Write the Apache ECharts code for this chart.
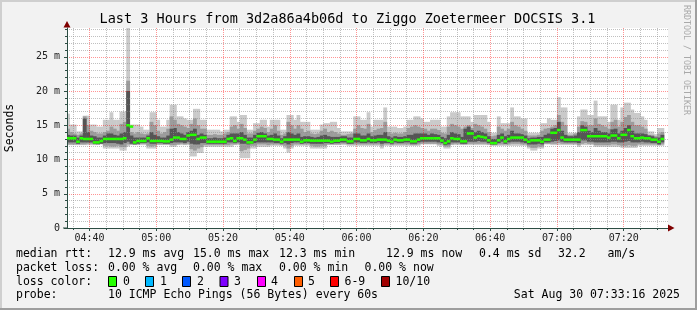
<!DOCTYPE html>
<html><head><meta charset="utf-8">
<script src="https://cdn.jsdelivr.net/npm/echarts@6/dist/echarts.min.js"></script>
<style>html,body{margin:0;padding:0;background:#f2f2f2}#c{width:697px;height:310px}</style>
</head><body><div id="c"></div>
<script>
// ---------------- data ----------------
const titleText = 'Last 3 Hours from 3d2a86a4b06d to Ziggo Zoetermeer DOCSIS 3.1';
const yAxisName = 'Seconds';
const xTickLabels = ['04:40','05:00','05:20','05:40','06:00','06:20','06:40','07:00','07:20'];
const yTickValues = [0, 5, 10, 15, 20, 25];
const yTickLabels = ['0', '5 m', '10 m', '15 m', '20 m', '25 m'];
const rangeStart = '04:33:16';
const rangeEnd = '07:33:16';
const firstStep = '04:33';
const yMax = 29.2;

// median rtt (ms), one value per minute
const med = [
13.1,13.1,13.1,12.6,13.1,13.0,13.0,13.0,12.5,12.5,
12.7,13.0,13.0,13.0,13.0,13.0,13.0,13.1,15.0,14.8,
12.5,12.7,12.7,12.7,13.1,12.7,12.7,12.7,12.7,12.65,
12.65,12.9,13.2,13.2,13.0,13.0,13.5,13.6,13.6,13.0,
13.2,13.2,12.6,12.6,12.6,12.6,12.6,12.6,13.0,13.1,
12.7,13.1,13.1,12.9,12.5,12.5,12.9,13.4,13.4,13.4,
13.0,13.0,12.9,12.9,12.6,12.9,12.9,12.9,12.9,12.9,
12.6,12.8,12.8,12.75,12.75,12.75,12.75,12.75,12.75,12.6,
12.75,12.75,12.9,12.9,12.65,12.65,13.0,13.0,12.8,12.8,
13.0,12.8,12.8,12.9,12.9,12.9,12.75,12.6,12.9,12.8,
12.8,12.9,12.9,12.65,12.65,12.9,13.1,13.1,13.1,13.1,
13.1,13.1,12.75,12.4,12.65,13.1,13.0,13.0,12.65,12.65,
13.8,13.8,13.2,13.4,13.3,13.2,12.8,12.4,12.4,12.8,
13.2,12.65,13.0,13.2,13.2,13.2,13.2,12.9,12.6,12.8,
12.8,12.8,12.6,12.9,12.9,13.9,13.9,14.3,13.2,12.9,
12.9,12.9,12.9,12.9,14.3,14.3,13.4,13.4,13.4,13.4,
13.4,13.4,13.2,13.5,13.5,13.1,13.6,13.6,14.3,13.4,
13.1,13.1,13.2,13.1,13.1,12.9,12.9,12.6,13.0];

// slowest ping of each round (ms)
const mx = [
16.7,15.1,15.1,14.1,14.1,16.4,16.4,15.1,15.1,14.8,
14.8,15.8,15.8,16.9,15.8,15.8,17.0,17.0,29.2,15.1,
15.1,15.1,14.8,14.35,14.35,16.9,16.9,15.8,14.8,14.8,
15.8,18.0,18.0,16.3,16.3,16.0,15.8,15.8,17.4,17.4,
15.8,15.8,14.35,14.35,14.35,14.35,14.1,14.35,14.35,16.3,
16.3,15.5,16.5,16.5,14.35,14.35,15.3,15.3,15.8,15.8,
14.8,15.8,15.8,15.8,14.35,14.35,16.5,16.5,15.8,16.5,
15.5,15.5,15.5,14.35,14.35,14.35,15.1,15.3,15.3,15.5,
15.5,14.6,14.1,14.1,14.1,14.1,16.3,16.3,15.8,15.8,
16.9,14.8,15.8,15.8,15.8,17.6,14.8,14.8,14.8,14.6,
14.6,14.8,15.8,15.8,16.3,16.3,16.0,15.5,15.5,15.8,
15.8,15.8,14.8,14.8,16.3,16.9,16.9,16.9,16.3,16.3,
16.3,15.5,16.5,16.5,16.5,16.5,15.5,13.9,13.9,16.3,
15.3,15.3,15.3,17.6,16.3,16.3,16.0,16.0,13.9,13.9,
13.9,13.9,15.3,15.3,16.0,15.8,15.8,19.1,17.6,17.6,
13.9,13.9,13.9,16.3,17.3,17.3,16.5,16.5,18.6,16.3,
16.3,16.3,15.5,18.0,18.0,15.8,17.6,18.3,18.3,17.3,
16.8,16.8,16.3,15.8,14.1,14.1,13.7,14.6,14.6];

// upper edge of the middle smoke band (ms)
const hi2 = [
14.5,14.0,13.8,13.6,13.8,16.3,15.0,14.2,14.0,13.8,
13.8,14.0,14.2,14.8,14.5,14.2,15.2,15.5,21.5,14.0,
13.8,14.0,13.8,13.7,13.8,15.5,15.0,14.2,13.8,14.0,
14.5,16.3,15.8,15.2,15.0,14.8,14.6,15.2,16.0,15.0,
14.5,14.5,13.6,13.6,13.7,13.6,13.6,13.8,14.0,14.8,
15.0,14.5,15.2,14.6,13.8,13.8,14.2,14.5,14.8,14.6,
14.0,14.5,15.0,14.2,13.6,13.8,15.5,15.0,14.5,15.0,
14.5,14.0,14.2,13.8,13.7,13.8,14.2,14.5,14.0,14.2,
14.0,13.8,13.6,13.6,13.7,13.8,14.5,15.0,14.6,14.5,
15.2,14.0,14.3,14.5,14.6,15.5,14.0,13.8,13.9,13.8,
13.8,14.0,14.6,14.8,15.0,14.8,14.6,14.5,14.2,14.5,
14.5,14.3,13.9,13.8,14.8,15.2,15.0,14.8,14.5,14.8,
15.0,14.6,15.2,15.0,14.8,14.5,14.0,13.4,13.5,14.8,
14.5,14.2,14.5,15.5,15.0,14.8,14.5,14.2,13.5,13.5,
13.5,13.6,14.2,14.5,14.6,14.8,15.0,16.5,15.5,15.0,
13.6,13.6,13.8,14.8,15.6,15.5,15.0,15.0,16.0,15.2,
15.0,14.8,14.5,15.5,15.8,14.8,15.5,16.2,16.5,15.5,
15.0,15.0,14.8,14.5,13.6,13.6,13.4,13.8,14.0];

// upper edge of the dark core band (ms)
const hi3 = [
13.6,13.5,13.5,13.2,13.5,16.0,14.0,13.5,13.4,13.2,
13.2,13.5,13.8,13.8,13.6,13.5,13.8,14.0,20.0,13.5,
13.2,13.2,13.2,13.2,13.5,14.0,13.6,13.4,13.2,13.2,
13.5,14.5,14.6,14.0,13.8,13.6,14.0,14.2,14.5,13.6,
13.8,13.6,13.1,13.1,13.2,13.1,13.1,13.2,13.6,13.8,
13.8,13.8,14.0,13.6,13.2,13.2,13.6,13.9,14.0,13.8,
13.5,13.6,13.8,13.5,13.1,13.4,14.0,13.8,13.6,13.8,
13.3,13.4,13.4,13.3,13.2,13.3,13.5,13.6,13.4,13.3,
13.3,13.3,13.4,13.4,13.2,13.2,13.8,13.8,13.5,13.5,
13.8,13.4,13.5,13.6,13.6,14.0,13.4,13.2,13.4,13.3,
13.3,13.4,13.6,13.6,13.8,13.8,13.8,13.8,13.6,13.8,
13.7,13.6,13.3,13.1,13.6,14.0,13.8,13.7,13.3,14.5,
14.8,14.3,14.0,14.2,14.0,13.8,13.4,13.0,13.0,13.6,
13.8,13.4,13.6,14.2,13.8,13.8,13.7,13.5,13.1,13.2,
13.2,13.3,13.3,13.6,13.8,14.5,14.6,15.5,14.2,13.6,
13.4,13.4,13.5,14.0,15.0,14.8,14.2,14.0,14.6,14.2,
14.0,14.0,13.8,14.4,14.5,13.8,14.2,14.6,15.0,14.2,
13.8,13.8,13.8,13.7,13.5,13.4,13.2,13.2,13.6];

// lower edge of the dark core band (ms)
const lo3 = [
12.5,12.5,12.5,12.3,12.5,12.5,12.5,12.5,12.3,12.2,
12.3,12.4,12.4,12.4,12.4,12.3,12.2,12.4,12.6,12.3,
12.2,12.3,12.4,12.4,12.5,12.3,12.3,12.4,12.4,12.3,
12.3,12.4,12.5,12.5,12.5,12.4,12.6,12.3,12.2,12.2,
12.4,12.4,12.3,12.3,12.3,12.3,12.3,12.3,12.5,12.5,
12.4,12.5,12.3,12.3,12.2,12.3,12.4,12.5,12.5,12.5,
12.5,12.5,12.4,12.4,12.3,12.4,12.2,12.4,12.5,12.5,
12.3,12.4,12.4,12.3,12.3,12.3,12.3,12.4,12.4,12.3,
12.4,12.4,12.5,12.5,12.3,12.3,12.5,12.5,12.4,12.4,
12.5,12.4,12.4,12.5,12.3,12.4,12.4,12.3,12.5,12.4,
12.4,12.5,12.5,12.3,12.3,12.5,12.6,12.6,12.6,12.6,
12.6,12.5,12.4,12.1,12.2,12.5,12.5,12.5,12.3,12.3,
12.6,12.6,12.6,12.7,12.6,12.6,12.4,12.2,12.2,12.4,
12.6,12.3,12.5,12.6,12.6,12.6,12.5,12.4,12.2,12.2,
12.2,12.3,12.2,12.5,12.5,12.6,12.7,12.8,12.6,12.5,
12.5,12.5,12.5,12.4,12.8,12.8,12.6,12.6,12.5,12.5,
12.5,12.5,12.5,12.6,12.6,12.5,12.5,12.6,12.7,12.5,
12.5,12.5,12.6,12.5,12.5,12.4,12.4,12.2,12.5];

// lower edge of the middle smoke band (ms)
const lo2 = [
12.2,12.2,12.2,12.2,12.2,12.2,12.3,12.3,12.2,12.3,
12.3,12.0,12.0,11.9,11.9,12.0,11.8,11.8,12.2,12.2,
12.2,12.2,12.3,12.3,12.0,11.9,12.0,12.2,12.2,12.2,
12.2,12.1,12.1,12.2,12.3,12.2,12.3,11.5,11.3,11.6,
11.8,12.1,12.1,12.1,12.1,12.1,12.1,12.1,12.1,12.2,
12.2,12.3,11.2,11.4,11.6,12.0,12.0,12.2,12.2,12.2,
12.1,12.2,12.2,12.2,12.1,12.0,11.6,12.0,12.2,12.2,
12.2,12.2,12.2,12.0,11.9,11.9,12.0,12.0,12.2,12.2,
12.2,12.2,12.3,12.3,12.2,12.2,12.2,12.2,12.2,12.2,
12.2,12.2,12.2,12.2,12.0,12.2,12.2,12.1,12.2,12.2,
12.2,12.2,12.2,12.1,12.1,12.2,12.3,12.3,12.3,12.3,
12.3,12.2,12.2,11.9,11.9,12.2,12.3,12.3,12.2,12.2,
12.3,12.3,12.3,12.3,12.3,12.3,12.2,12.1,12.1,12.2,
12.2,12.2,12.2,12.3,12.3,12.3,12.2,12.2,11.9,11.7,
11.7,11.9,11.9,12.3,12.3,12.3,12.3,12.4,12.3,12.3,
12.3,12.3,12.3,12.1,12.3,12.4,12.3,12.3,12.1,12.1,
12.1,12.1,12.1,12.2,12.2,12.1,12.0,12.0,12.1,12.0,
12.0,12.2,12.2,12.2,12.2,12.2,12.2,12.1,12.2];

// fastest ping of each round (ms)
const mn = [
12.1,12.1,12.1,12.1,12.1,12.1,12.1,12.1,12.1,12.2,
12.2,11.6,11.6,11.6,11.6,11.6,11.3,11.3,11.9,12.1,
12.1,12.1,12.1,12.1,11.6,11.6,11.6,12.1,12.1,12.1,
12.1,11.85,11.85,12.1,12.1,12.1,12.1,10.45,10.45,10.95,
10.95,11.85,11.85,11.85,11.85,11.85,11.85,11.85,11.85,11.85,
12.1,12.1,10.2,10.2,10.2,11.6,11.6,11.85,11.85,11.85,
11.85,12.0,12.0,12.0,12.0,11.6,11.0,11.6,12.0,12.0,
12.0,12.0,12.0,11.6,11.6,11.6,11.6,11.6,12.1,12.1,
12.1,12.1,12.1,12.1,12.0,12.0,12.0,12.0,12.0,12.0,
12.0,12.0,12.0,12.0,11.6,12.0,12.0,12.0,12.0,12.0,
12.0,12.0,12.0,12.0,12.0,12.0,12.2,12.2,12.2,12.2,
12.2,12.0,12.0,11.6,11.6,12.1,12.1,12.1,12.1,12.1,
12.1,12.1,12.1,12.1,12.1,12.1,12.1,12.0,12.0,12.0,
12.0,12.0,12.0,12.0,12.0,12.0,12.0,12.0,11.6,11.3,
11.3,11.6,11.6,12.2,12.2,12.1,12.1,12.1,12.1,12.1,
12.1,12.1,12.1,11.85,12.1,12.1,12.1,12.1,11.85,11.85,
11.85,11.85,11.85,11.85,11.85,11.85,11.7,11.7,11.7,11.7,
11.7,12.0,12.0,12.0,12.0,12.0,12.0,12.0,12.0];

// legend texts
const rttStats = ['12.9 ms avg', '15.0 ms max', '12.3 ms min', '12.9 ms now', '0.4 ms sd', '32.2', 'am/s'];
const lossStats = ['0.00 % avg', '0.00 % max', '0.00 % min', '0.00 % now'];
const lossLabels = ['0', '1', '2', '3', '4', '5', '6-9', '10/10'];
const lossColors = ['#26ff00', '#00b8ff', '#0059ff', '#7e00ff', '#ff00ff', '#ff5e00', '#ff0000', '#a10000'];
const probeText = '10 ICMP Echo Pings (56 Bytes) every 60s';
const stampText = 'Sat Aug 30 07:33:16 2025';
const watermark = 'RRDTOOL / TOBI OETIKER';

// ---------------- layout / build ----------------
const toMin = s => { const p = s.split(':').map(Number); return p[0] * 60 + p[1] + (p[2] || 0) / 60; };
const t0 = toMin(rangeStart), t1 = toMin(rangeEnd), s0 = toMin(firstStep);
const xMajor = xTickLabels.map(toMin);
const xMinor = []; for (let m = Math.ceil(t0 / 5) * 5; m <= t1; m += 5) if (m % 20) xMinor.push(m);
const yMinor = []; for (let v = 1; v < yMax; v++) if (v % 5) yMinor.push(v);

const MONO = 'DejaVu Sans Mono';
const AX = '#2c4d43';
const minorLine = { color: 'rgba(140,140,140,0.55)', type: 'dotted', width: 1 };
const majorLine = { color: 'rgba(255,0,0,0.42)', type: 'dotted', width: 1 };

function band(lo, hi, color) {
  return {
    type: 'custom', clip: true, silent: true, z: 1,
    encode: { x: 0, y: [1, 2] },
    data: lo.map((v, i) => [s0 + i, v, hi[i]]),
    renderItem: (params, api) => {
      const a = api.coord([api.value(0), api.value(2)]);
      const b = api.coord([api.value(0) + 1, api.value(1)]);
      return { type: 'rect', shape: { x: a[0], y: a[1], width: b[0] - a[0] + 0.5, height: b[1] - a[1] }, style: { fill: color } };
    }
  };
}

const graphics = [];
// frame
graphics.push({ type: 'rect', shape: { x: 0, y: 0, width: 697, height: 2 }, style: { fill: '#cfcfcf' } });
graphics.push({ type: 'rect', shape: { x: 0, y: 0, width: 2, height: 310 }, style: { fill: '#cfcfcf' } });
graphics.push({ type: 'rect', shape: { x: 695, y: 0, width: 2, height: 310 }, style: { fill: '#9e9e9e' } });
graphics.push({ type: 'rect', shape: { x: 0, y: 308, width: 697, height: 2 }, style: { fill: '#9e9e9e' } });
// title
graphics.push({ type: 'text', x: 347.5, y: 19, style: { text: titleText, font: '13.5px "' + MONO + '"', fill: '#000', align: 'center', verticalAlign: 'middle' } });
// y name
graphics.push({ type: 'text', x: 10.5, y: 128, rotation: Math.PI / 2, style: { text: yAxisName, font: '11.5px "' + MONO + '"', fill: '#000', align: 'center', verticalAlign: 'middle' } });
// watermark
graphics.push({ type: 'text', x: 686, y: 60, rotation: -Math.PI / 2, style: { text: watermark, font: '8.3px "' + MONO + '"', fill: '#a9a9a9', align: 'center', verticalAlign: 'middle' } });
// arrows
graphics.push({ type: 'polygon', z: 20, shape: { points: [[668, 224.5], [674.5, 228], [668, 231.5]] }, style: { fill: '#7f0000' } });
graphics.push({ type: 'polygon', z: 20, shape: { points: [[63.5, 27.5], [67, 21], [70.5, 27.5]] }, style: { fill: '#7f0000' } });
graphics.push({ type: 'rect', z: 20, shape: { x: 63, y: 227.5, width: 4, height: 1 }, style: { fill: AX } });

const LF = '11.5px "' + MONO + '"';
function txt(x, y, s, align) {
  graphics.push({ type: 'text', x: x, y: y, style: { text: s, font: LF, fill: '#000', align: align || 'left', verticalAlign: 'middle' } });
}
const rowY = [254, 268, 282, 295.5];
txt(16, rowY[0], 'median rtt:');
[108, 193, 279, 386, 479, 558, 607.5].forEach((x, i) => txt(x, rowY[0], rttStats[i]));
txt(16, rowY[1], 'packet loss:');
[108, 193, 279, 364.5].forEach((x, i) => txt(x, rowY[1], lossStats[i]));
txt(16, rowY[2], 'loss color:');
const boxX = [108, 145, 182, 219.5, 257, 294, 330, 381];
const boxLabelX = [123, 160, 197, 234, 271, 308, 344.5, 395.5];
boxX.forEach((x, i) => {
  graphics.push({ type: 'rect', shape: { x: x + 0.5, y: 276.5, width: 8, height: 10 }, style: { fill: lossColors[i], stroke: '#000', lineWidth: 1 } });
  txt(boxLabelX[i], rowY[2], lossLabels[i]);
});
txt(16, rowY[3], 'probe:');
txt(108, rowY[3], probeText);
txt(680, rowY[3], stampText, 'right');

const chart = echarts.init(document.getElementById('c'), null, { renderer: 'canvas' });
chart.setOption({
  animation: false,
  backgroundColor: '#f2f2f2',
  grid: { left: 67, right: 29, top: 28, bottom: 82, show: true, backgroundColor: '#ffffff', borderWidth: 0, outerBoundsMode: 'none', containLabel: false },
  xAxis: [
    { type: 'value', min: t0, max: t1, position: 'bottom', z: 5,
      axisLine: { show: true, onZero: false, lineStyle: { color: AX, width: 1 } },
      axisTick: { show: true, customValues: xMajor, length: 3, lineStyle: { color: AX } },
      axisLabel: { customValues: xMajor, margin: 5, fontFamily: MONO, fontSize: 10, color: '#222',
        formatter: v => { let b = 0; xMajor.forEach((m, i) => { if (Math.abs(m - v) < Math.abs(xMajor[b] - v)) b = i; }); return xTickLabels[b]; } },
      splitLine: { show: true, lineStyle: majorLine } },
    { type: 'value', min: t0, max: t1, position: 'bottom', z: 4,
      axisLine: { show: false },
      axisTick: { show: true, customValues: xMinor, length: 2, lineStyle: { color: AX } },
      axisLabel: { show: false, customValues: xMinor },
      splitLine: { show: true, lineStyle: minorLine } }
  ],
  yAxis: [
    { type: 'value', min: 0, max: yMax, position: 'left', z: 5,
      axisLine: { show: true, onZero: false, lineStyle: { color: AX, width: 1 } },
      axisTick: { show: true, customValues: yTickValues, length: 3, lineStyle: { color: AX } },
      axisLabel: { customValues: yTickValues, margin: 7, fontFamily: MONO, fontSize: 10, color: '#222',
        formatter: v => yTickLabels[yTickValues.indexOf(Math.round(v))] },
      splitLine: { show: true, lineStyle: majorLine } },
    { type: 'value', min: 0, max: yMax, position: 'left', z: 4,
      axisLine: { show: false },
      axisTick: { show: true, customValues: yMinor, length: 2, lineStyle: { color: AX } },
      axisLabel: { show: false, customValues: yMinor },
      splitLine: { show: true, lineStyle: minorLine } }
  ],
  series: [
    band(mn, mx, '#cacaca'),
    band(lo2, hi2, '#9c9c9c'),
    band(lo3, hi3, '#555555'),
    { type: 'custom', clip: true, silent: true, z: 10,
      encode: { x: 0, y: 1 },
      data: med.map((v, i) => [s0 + i, v]),
      renderItem: (params, api) => {
        const a = api.coord([api.value(0), api.value(1)]);
        const b = api.coord([api.value(0) + 1, api.value(1)]);
        return { type: 'rect', shape: { x: a[0], y: a[1] - 1.25, width: b[0] - a[0] + 0.3, height: 2.5 }, style: { fill: lossColors[0] } };
      } }
  ],
  graphic: graphics
});
</script></body></html>
